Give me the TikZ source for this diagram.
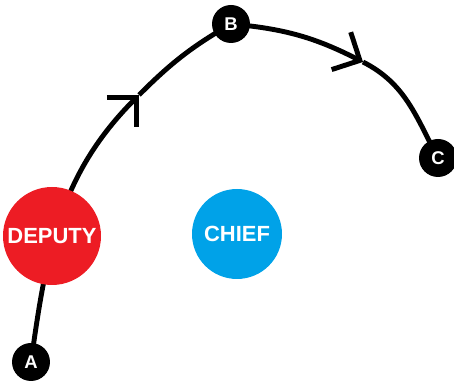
\documentclass[tikz,border=0pt]{standalone}
\usepackage{fontspec}
\setmainfont{Liberation Sans}
\usetikzlibrary{arrows.meta, backgrounds}
\definecolor{deputyred}{RGB}{237,28,36}
\definecolor{chiefblue}{RGB}{0,162,232}

\begin{document}
\begin{tikzpicture}[x=0.02cm, y=0.02cm,
    officer/.style={circle, inner sep=0pt, text=white,
      font=\bfseries\fontsize{12.5}{14}\selectfont},
    waypoint/.style={circle, fill=black, inner sep=0pt, minimum size=0.76cm,
      text=white, font=\bfseries\fontsize{10.5}{12}\selectfont},
    route/.style={line width=2.8pt, black},
    barb/.style={-{Straight Barb[length=0.42cm, width=0.84cm]}}]
  \useasboundingbox (0,0) rectangle (454,381);

  % Officers
  \node[officer, fill=deputyred, minimum size=1.96cm] (deputy) at (52,145) {DEPUTY};
  \node[officer, fill=chiefblue, minimum size=1.8cm] (chief) at (237,147) {CHIEF};

  % Waypoints
  \node[waypoint] (A) at (31,19) {A};
  \node[waypoint] (B) at (231,357) {B};
  \node[waypoint] (C) at (438,223) {C};
  \coordinate (m1) at (139,286);
  \coordinate (m2) at (363,319);

  % Route behind the circles
  \begin{pgfonlayer}{background}
    \draw[route, barb] (A.center) to[out=82, in=225] (m1);
    \draw[route] (m1) to[out=45, in=210] (B.center);
    \draw[route, barb] (B.center) to[out=-5, in=153] (m2);
    \draw[route] (m2) to[out=-27, in=118] (C.center);
  \end{pgfonlayer}
\end{tikzpicture}
\end{document}
